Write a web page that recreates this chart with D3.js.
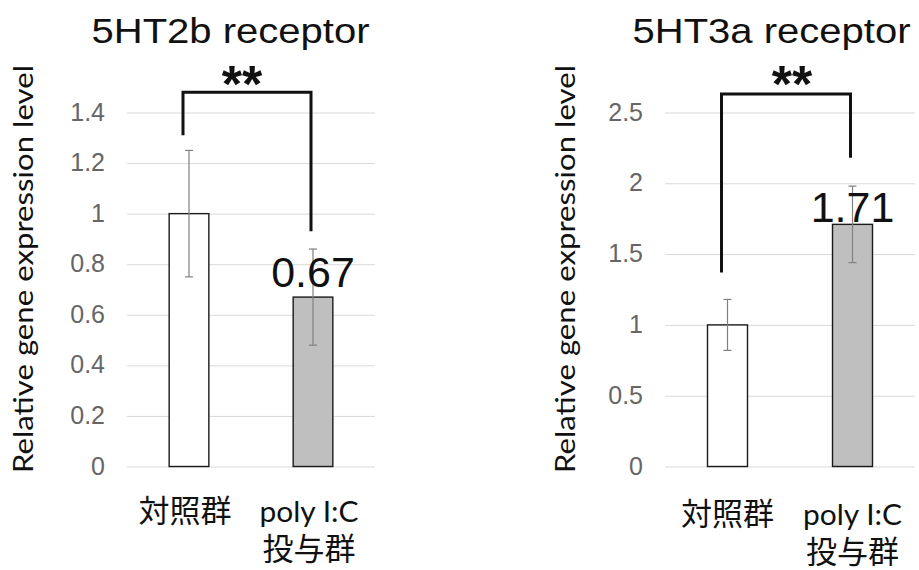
<!DOCTYPE html>
<html>
<head>
<meta charset="utf-8">
<script src="https://cdn.jsdelivr.net/npm/d3@7"></script>
<style>
  body { margin: 0; background: #fff; }
</style>
</head>
<body>
<svg id="chart" width="919" height="570"></svg>
<script>
// data
var categories = [["対照群"], ["poly I:C", "投与群"]];
var barFills = ["#ffffff", "#bfbfbf"];

var ht2bMeans = [1.0, 0.67];
var ht2bErrors = [0.25, 0.19];
var ht2bTicks = [0, 0.2, 0.4, 0.6, 0.8, 1, 1.2, 1.4];
var ht2bBracket = [1.31, 1.48, 0.93];   // left leg end, top, right leg end
var ht2bMark = "**";

var ht3aMeans = [1.0, 1.71];
var ht3aErrors = [0.18, 0.27];
var ht3aTicks = [0, 0.5, 1, 1.5, 2, 2.5];
var ht3aBracket = [1.37, 2.63, 2.18];
var ht3aMark = "**";

var svg = d3.select("#chart");

function drawPanel(opt) {
    var g = svg.append("g");

    var x = d3.scaleBand()
        .domain(d3.range(opt.means.length))
        .range([opt.left, opt.right])
        .paddingInner(0.68)
        .paddingOuter(0.34);

    var y = d3.scaleLinear()
        .domain([0, opt.ticks[opt.ticks.length - 1]])
        .range([466.5, 112.5]);

    // title
    g.append("text")
        .attr("x", opt.titleX)
        .attr("y", 43)
        .attr("text-anchor", "middle")
        .attr("font-family", "'Liberation Sans', Arial, sans-serif")
        .attr("font-size", "35px")
        .attr("textLength", 278)
        .attr("lengthAdjust", "spacingAndGlyphs")
        .attr("fill", "#111")
        .text(opt.title);

    // y axis label
    g.append("text")
        .attr("transform", "translate(" + opt.labelX + ",269) rotate(-90)")
        .attr("text-anchor", "middle")
        .attr("font-family", "Lato, 'Open Sans', sans-serif")
        .attr("font-size", "27px")
        .attr("textLength", 408)
        .attr("lengthAdjust", "spacingAndGlyphs")
        .attr("fill", "#111")
        .text("Relative gene expression level");

    // gridlines + tick labels
    var axis = d3.axisLeft(y)
        .tickValues(opt.ticks)
        .tickFormat(function(d) { return String(d); })
        .tickSize(-(opt.right - opt.left))
        .tickSizeOuter(0)
        .tickPadding(22);

    var ax = g.append("g")
        .attr("transform", "translate(" + opt.left + ",0)")
        .call(axis);
    ax.select(".domain").remove();
    ax.selectAll(".tick line")
        .attr("stroke", "#d9d9d9")
        .attr("stroke-width", 1);
    ax.selectAll(".tick text")
        .attr("font-family", "'Liberation Sans', Arial, sans-serif")
        .attr("font-size", "25px")
        .attr("fill", "#666")
        .attr("dy", "0.3em");

    // bars
    g.selectAll(".bar")
        .data(opt.means)
        .enter()
        .append("rect")
        .attr("x", function(d, i) { return x(i); })
        .attr("y", function(d) { return y(d); })
        .attr("width", x.bandwidth())
        .attr("height", function(d) { return y(0) - y(d); })
        .attr("fill", function(d, i) { return barFills[i]; })
        .attr("stroke", "#1a1a1a")
        .attr("stroke-width", 1.4);

    // error bars
    var eb = g.selectAll(".err")
        .data(opt.means)
        .enter()
        .append("g")
        .attr("stroke", "#808080")
        .attr("stroke-width", 1.2);
    eb.append("line")
        .attr("x1", function(d, i) { return x(i) + x.bandwidth() / 2; })
        .attr("x2", function(d, i) { return x(i) + x.bandwidth() / 2; })
        .attr("y1", function(d, i) { return y(d + opt.errors[i]); })
        .attr("y2", function(d, i) { return y(d - opt.errors[i]); });
    [1, -1].forEach(function(sgn) {
        eb.append("line")
            .attr("x1", function(d, i) { return x(i) + x.bandwidth() / 2 - 4; })
            .attr("x2", function(d, i) { return x(i) + x.bandwidth() / 2 + 4; })
            .attr("y1", function(d, i) { return y(d + sgn * opt.errors[i]); })
            .attr("y2", function(d, i) { return y(d + sgn * opt.errors[i]); });
    });

    // value label on the treated bar
    g.append("text")
        .attr("x", x(1) + x.bandwidth() / 2)
        .attr("y", y(opt.means[1]) - opt.valueDy)
        .attr("text-anchor", "middle")
        .attr("font-family", "'Liberation Sans', Arial, sans-serif")
        .attr("font-size", "43px")
        .attr("fill", "#111")
        .text(d3.format(".2f")(opt.means[1]));

    // significance bracket
    var lx = x(0) + x.bandwidth() / 2 - 6;
    var rx = x(1) + x.bandwidth() / 2 - 2;
    g.append("path")
        .attr("d", "M" + lx + "," + y(opt.bracket[0]) +
                   "V" + y(opt.bracket[1]) +
                   "H" + rx +
                   "V" + y(opt.bracket[2]))
        .attr("fill", "none")
        .attr("stroke", "#111")
        .attr("stroke-width", 3);

    g.append("text")
        .attr("x", (lx + rx) / 2 + opt.markDx)
        .attr("y", 102)
        .attr("text-anchor", "middle")
        .attr("font-family", "'Liberation Sans', Arial, sans-serif")
        .attr("font-weight", "bold")
        .attr("font-size", "52px")
        .attr("fill", "#111")
        .text(opt.mark);

    // category labels
    var lineY = [522, 560];
    categories.forEach(function(lines, i) {
        lines.forEach(function(t, j) {
            var isLatin = /^[\x00-\x7f]+$/.test(t);
            var lbl = g.append("text")
                .attr("x", x(i) + x.bandwidth() / 2 + opt.catDx)
                .attr("y", lineY[j] + opt.catDy)
                .attr("text-anchor", "middle")
                .attr("font-family", "Lato, 'Noto Sans CJK JP', sans-serif")
                .attr("font-size", isLatin ? "29px" : "31px")
                .attr("fill", "#111")
                .text(t);
            if (isLatin) {
                lbl.attr("textLength", 99).attr("lengthAdjust", "spacingAndGlyphs");
            }
        });
    });
}

drawPanel({
    title: "5HT2b receptor", titleX: 230.5, labelX: 33,
    left: 127, right: 375,
    means: ht2bMeans, errors: ht2bErrors, ticks: ht2bTicks,
    bracket: ht2bBracket, mark: ht2bMark, markDx: -5,
    valueDy: 10, catDx: -4, catDy: 0
});

drawPanel({
    title: "5HT3a receptor", titleX: 771.5, labelX: 575,
    left: 665, right: 915,
    means: ht3aMeans, errors: ht3aErrors, ticks: ht3aTicks,
    bracket: ht3aBracket, mark: ht3aMark, markDx: 6,
    valueDy: 2, catDx: 0, catDy: 3
});
</script>
</body>
</html>
